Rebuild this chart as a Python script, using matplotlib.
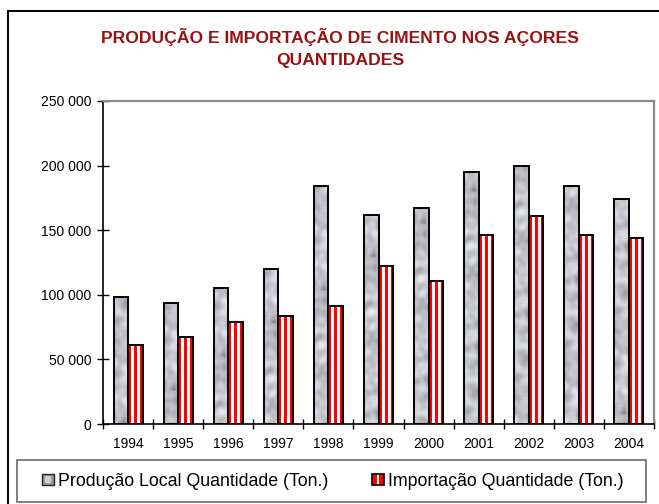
import numpy as np
import matplotlib
matplotlib.use("Agg")
import matplotlib.pyplot as plt
from matplotlib.patches import Rectangle
from matplotlib.lines import Line2D
from matplotlib.legend_handler import HandlerBase
from matplotlib.ticker import FuncFormatter, FixedLocator

plt.rcParams['font.family'] = ['Liberation Sans', 'DejaVu Sans']

years = ['1994', '1995', '1996', '1997', '1998', '1999',
         '2000', '2001', '2002', '2003', '2004']
producao = [98000, 94000, 105000, 120000, 184000, 162000,
            167000, 195000, 200000, 184000, 174000]
importacao = [61000, 67000, 79000, 83500, 91000, 122000,
              111000, 146000, 161000, 146000, 144000]
y_ticks = [0, 50000, 100000, 150000, 200000, 250000]

label_prod = 'Produção Local Quantidade (Ton.)'
label_imp = 'Importação Quantidade (Ton.)'
title_lines = ['PRODUÇÃO E IMPORTAÇÃO DE CIMENTO NOS AÇORES', 'QUANTIDADES']

W, H = 659, 504
fig = plt.figure(figsize=(W / 100, H / 100), dpi=100)
fig.patch.set_facecolor('white')

ax = fig.add_axes([103 / W, 1 - 424 / H, (654 - 103) / W, (424 - 101) / H])
ymax = 250000


def smooth_noise(rows, cols, seed, passes=2):
    """Granite-like grey texture built from box-blurred noise."""
    rng = np.random.default_rng(seed)
    a = rng.random((rows + 8, cols + 8))
    k = np.ones(3) / 3.0
    for _ in range(passes):
        a = np.apply_along_axis(lambda r: np.convolve(r, k, mode='same'), 1, a)
        a = np.apply_along_axis(lambda c: np.convolve(c, k, mode='same'), 0, a)
    a = a[4:-4, 4:-4]
    a = (a - a.min()) / (a.max() - a.min())
    a = a ** 0.7
    g = 0.50 + 0.41 * a
    return np.dstack([g, g * 1.01, g * 1.04]).clip(0, 1)


texture = smooth_noise(165, 8, seed=11)
stripes = np.array([[[1, 0, 0], [1, 1, 1], [1, 0, 0], [1, 1, 1], [1, 0, 0]]], dtype=float)

bw = 0.29
x = np.arange(len(years))
bars_p = ax.bar(x - bw / 2, producao, width=bw, facecolor='none',
                edgecolor='black', linewidth=1.4, zorder=3)
bars_i = ax.bar(x + bw / 2, importacao, width=bw, facecolor='none',
                edgecolor='black', linewidth=1.4, zorder=3)

for i, (rect, v) in enumerate(zip(bars_p, producao)):
    x0 = rect.get_x()
    n = max(2, int(round(texture.shape[0] * v / ymax)))
    tex = np.roll(texture, i * 17, axis=0)[:n]
    im = ax.imshow(tex, extent=[x0, x0 + rect.get_width(), 0, v],
                   origin='lower', aspect='auto', interpolation='bilinear', zorder=2)
    im.set_clip_path(rect)

for rect, v in zip(bars_i, importacao):
    x0 = rect.get_x()
    im = ax.imshow(stripes, extent=[x0, x0 + rect.get_width(), 0, v],
                   origin='lower', aspect='auto', interpolation='nearest', zorder=2)
    im.set_clip_path(rect)

ax.set_xlim(-0.5, len(years) - 0.5)
ax.set_ylim(0, ymax)

# axes styling
for s in ['left', 'bottom']:
    ax.spines[s].set_color('black')
    ax.spines[s].set_linewidth(1.2)
for s in ['top', 'right']:
    ax.spines[s].set_color('#8a8a8a')
    ax.spines[s].set_linewidth(1.6)

ax.yaxis.set_major_locator(FixedLocator(y_ticks))
ax.yaxis.set_major_formatter(FuncFormatter(lambda v, p: f'{int(v):,}'.replace(',', ' ')))
ax.set_xticks(x)
ax.set_xticklabels(years)
ax.set_xticks(np.arange(len(years) + 1) - 0.5, minor=True)
ax.tick_params(axis='x', which='major', length=0, pad=9, labelsize=10)
ax.tick_params(axis='x', which='minor', direction='inout', length=7, width=1)
ax.tick_params(axis='y', direction='inout', length=9, width=1, pad=4, labelsize=10)

# two-line title, placed by baseline
for ty, line in zip([43.5, 65.5], title_lines):
    fig.text(340 / W, 1 - ty / H, line, ha='center', va='baseline', fontsize=12.6,
             fontweight='bold', color='#991111')

# outer frame
fig.add_artist(Line2D([8 / W, 8 / W], [0, 1 - 11 / H], transform=fig.transFigure,
                      color='black', linewidth=1.4))
fig.add_artist(Line2D([8 / W, 1], [1 - 11 / H, 1 - 11 / H], transform=fig.transFigure,
                      color='black', linewidth=1.4))


class GraniteHandle:
    pass


class StripeHandle:
    pass


class GraniteHandler(HandlerBase):
    def create_artists(self, legend, orig, xd, yd, width, height, fontsize, trans):
        s = height
        x0, y0 = -xd + (width - s) / 2, -yd
        outer = Rectangle((x0, y0), s, s, facecolor='#9a9a9a', edgecolor='#222222',
                          linewidth=1.0, transform=trans)
        inner = Rectangle((x0 + s * 0.2, y0 + s * 0.2), s * 0.6, s * 0.6,
                          facecolor='#d0d0d0', edgecolor='none', transform=trans)
        return [outer, inner]


class StripeHandler(HandlerBase):
    def create_artists(self, legend, orig, xd, yd, width, height, fontsize, trans):
        s = height
        x0, y0 = -xd + (width - s) / 2, -yd
        arts = [Rectangle((x0, y0), s, s, facecolor='white', edgecolor='none',
                          transform=trans)]
        for fx in (0.0, 0.6):
            arts.append(Rectangle((x0 + s * fx, y0), s * 0.4, s, facecolor='red',
                                  edgecolor='none', transform=trans))
        arts.append(Rectangle((x0, y0), s, s, facecolor='none', edgecolor='black',
                              linewidth=1.2, transform=trans))
        return arts


leg = fig.legend([GraniteHandle(), StripeHandle()], [label_prod, label_imp],
                 handler_map={GraniteHandle: GraniteHandler(), StripeHandle: StripeHandler()},
                 loc='center', bbox_to_anchor=(333 / W, 1 - 481 / H), ncol=2,
                 frameon=False, fontsize=12.8, handlelength=0.6, handleheight=0.6,
                 handletextpad=0.25, columnspacing=2.5, borderpad=0)

fig.add_artist(Rectangle((17 / W, 1 - 502 / H), (646 - 17) / W, 42 / H,
                         transform=fig.transFigure, facecolor='none',
                         edgecolor='#6a6a6a', linewidth=1.2))

fig.savefig('out.png', dpi=100, facecolor='white')
